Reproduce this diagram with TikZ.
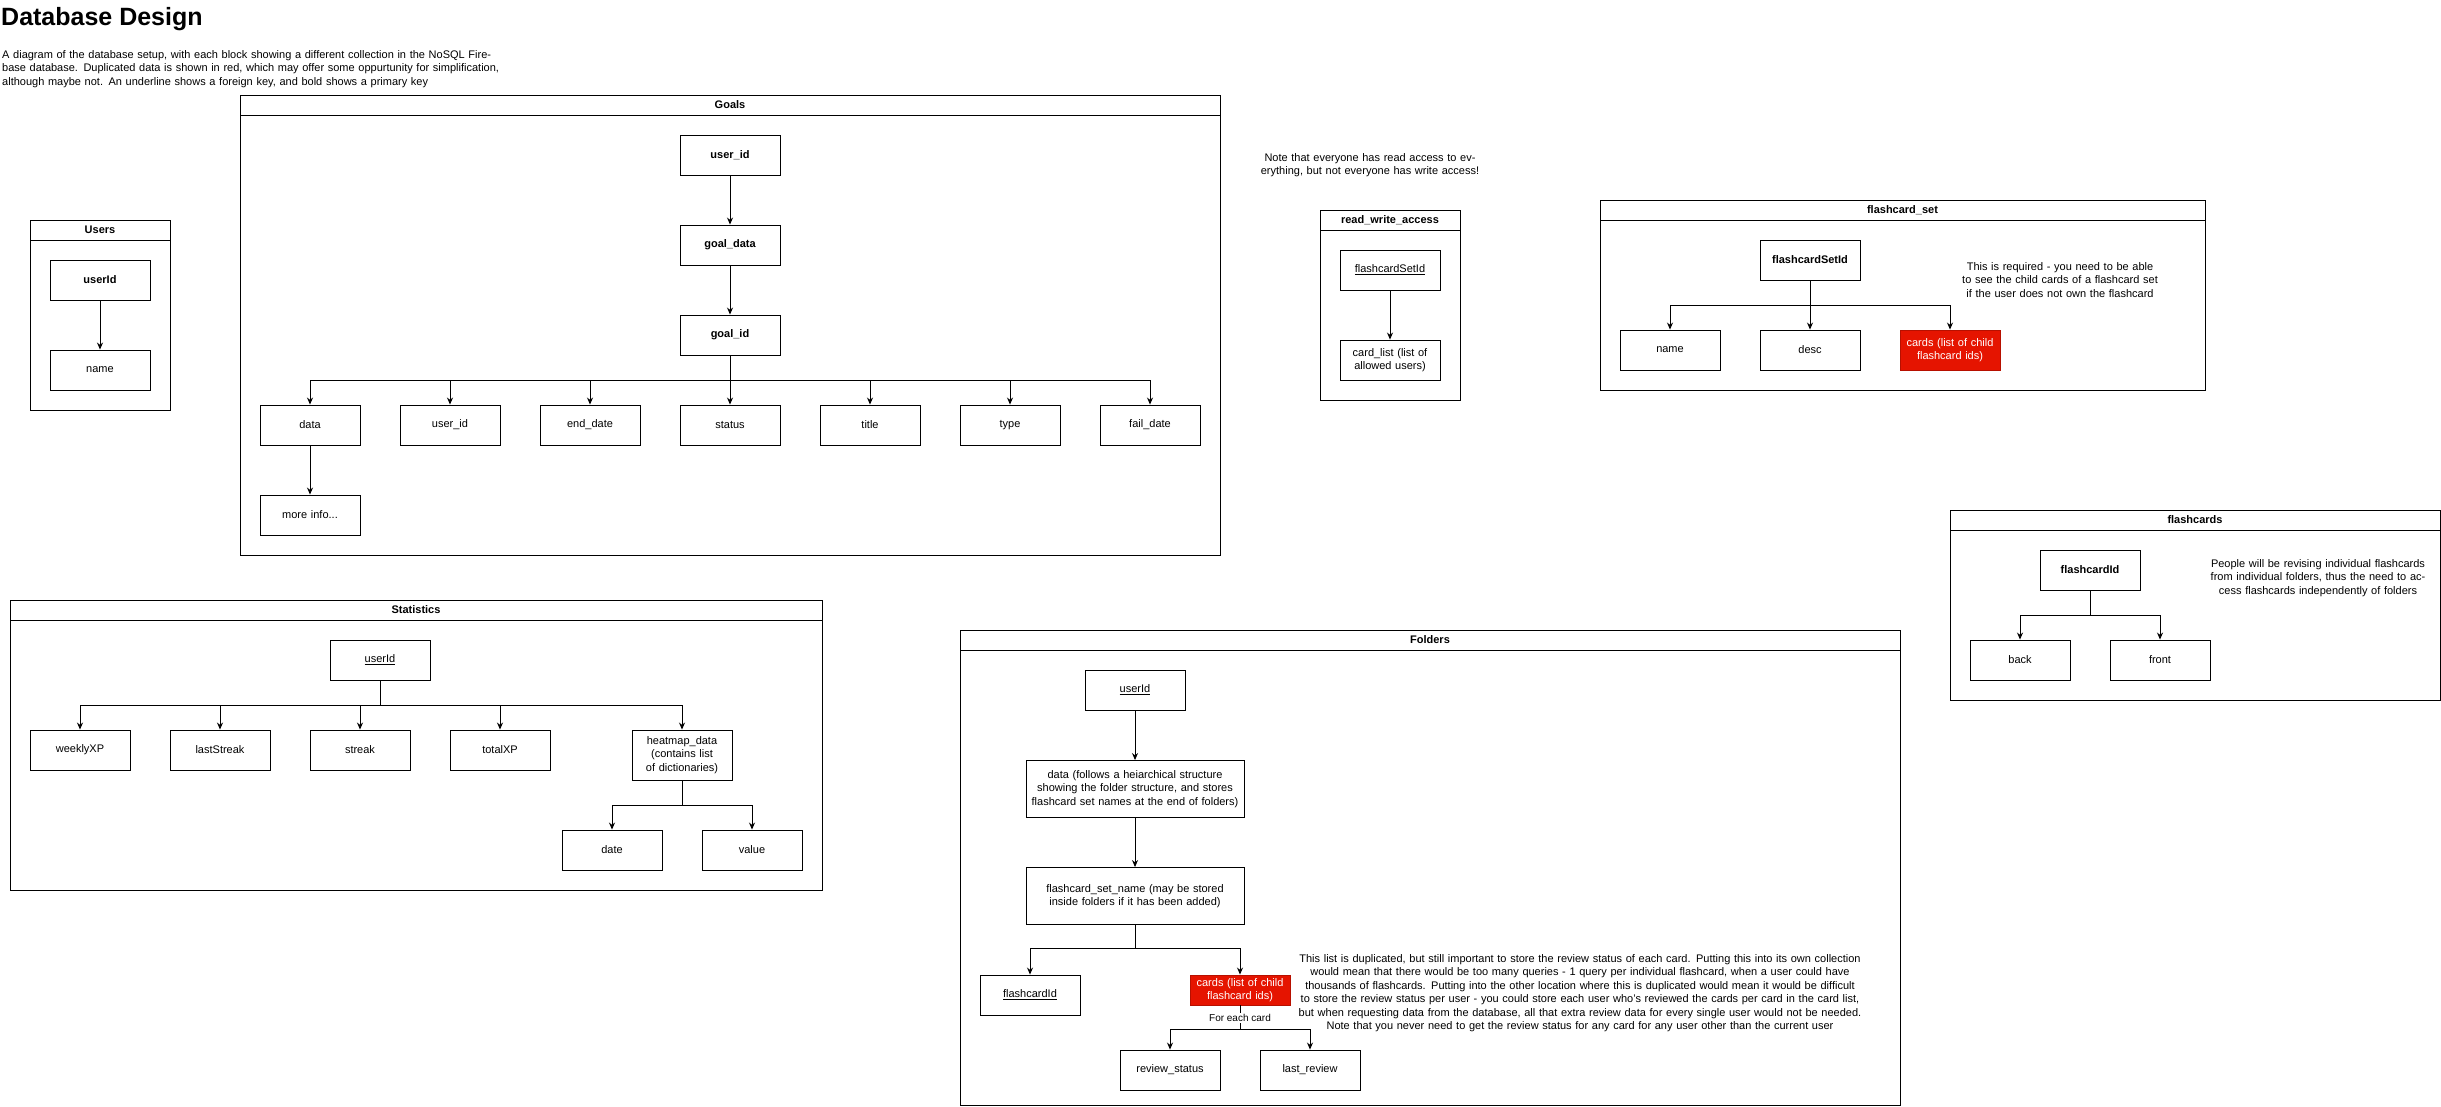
\documentclass[tikz,border=0pt]{standalone}
\usepackage{fontspec}
\setmainfont{Liberation Sans}
\usetikzlibrary{arrows.meta}
\definecolor{dupred}{HTML}{E51400}
\tikzset{
  x=1pt,y=-1pt,
  every node/.style={font=\fontsize{11}{13.5}\selectfont},
  fld/.style={draw,line width=0.9pt,minimum width=100pt,minimum height=40pt,text width=96pt,align=center,inner sep=1pt},
  pk/.style={fld,font=\fontsize{11}{13.5}\selectfont\bfseries},
  dup/.style={fld,fill=dupred,draw=dupred!80!black,text=white,minimum height=30pt},
  arr/.style={line width=0.9pt,-{Stealth[length=7pt,width=6pt]}},
  ln/.style={line width=0.9pt},
  cont/.style={line width=0.9pt},
  ctitle/.style={font=\fontsize{11}{13.5}\selectfont\bfseries},
  note/.style={align=center}
}
\newcommand{\container}[5]{%
  \draw[cont] (#1,#2) rectangle (#3,#4);
  \draw[cont] (#1,#2+20) -- (#3,#2+20);
  \node[ctitle] at ({(#1+#3)/2},#2+10) {#5};}
\begin{document}
\begin{tikzpicture}
\useasboundingbox (0,0) rectangle (2441,1106);
\node[anchor=north west,inner sep=0,font=\fontsize{25}{30}\selectfont\bfseries] (title) at (1,7) {Database Design};
\node[anchor=north west,inner sep=0,text width=510pt,align=left] (desc) at (2,50) {A diagram of the database setup, with each block showing a different collection in the NoSQL Firebase database. Duplicated data is shown in red, which may offer some oppurtunity for simplification, although maybe not. An underline shows a foreign key, and bold shows a primary key};

% Users
\container{30}{220}{170}{410}{Users}
\node[pk] (uid) at (100,280) {userId};
\node[fld] (uname) at (100,370) {name};
\draw[arr] (uid) -- (uname);

% Goals
\container{240}{95}{1220}{555}{Goals}
\node[pk] (guser) at (730,155) {user\_id};
\node[pk] (gdata) at (730,245) {goal\_data};
\node[pk] (gid) at (730,335) {goal\_id};
\draw[arr] (guser) -- (gdata);
\draw[arr] (gdata) -- (gid);
\coordinate (gb) at (730,380);
\node[fld] (g1) at (310,425) {data};
\node[fld] (g2) at (450,425) {user\_id};
\node[fld] (g3) at (590,425) {end\_date};
\node[fld] (g4) at (730,425) {status};
\node[fld] (g5) at (870,425) {title};
\node[fld] (g6) at (1010,425) {type};
\node[fld] (g7) at (1150,425) {fail\_date};
\node[fld] (gm) at (310,515) {more info...};
\draw[ln] (gid) -- (gb);
\foreach \n in {g1,g2,g3,g4,g5,g6,g7} \draw[arr] (gb) -| (\n.north);
\draw[arr] (g1) -- (gm);

% read_write_access
\node[note,text width=220pt] (rwnote) at (1370,165) {Note that everyone has read access to everything, but not everyone has write access!};
\container{1320}{210}{1460}{400}{read\_write\_access}
\node[fld] (rwid) at (1390,270) {\underline{flashcardSetId}};
\node[fld] (rwlist) at (1390,360) {card\_list (list of allowed users)};
\draw[arr] (rwid) -- (rwlist);

% flashcard_set
\container{1600}{200}{2205}{390}{flashcard\_set}
\node[pk] (fsid) at (1810,260) {flashcardSetId};
\node[fld] (fsname) at (1670,350) {name};
\node[fld] (fsdesc) at (1810,350) {desc};
\node[dup,minimum height=40pt] (fscards) at (1950,350) {cards (list of child flashcard ids)};
\coordinate (fsb) at (1810,305);
\draw[ln] (fsid) -- (fsb);
\foreach \n in {fsname,fsdesc,fscards} \draw[arr] (fsb) -| (\n.north);
\node[note,text width=250pt] (fsnote) at (2060,280) {This is required - you need to be able to see the child cards of a flashcard set if the user does not own the flashcard};

% flashcards
\container{1950}{510}{2440}{700}{flashcards}
\node[pk] (fcid) at (2090,570) {flashcardId};
\node[fld] (fcback) at (2020,660) {back};
\node[fld] (fcfront) at (2160,660) {front};
\coordinate (fcb) at (2090,615);
\draw[ln] (fcid) -- (fcb);
\foreach \n in {fcback,fcfront} \draw[arr] (fcb) -| (\n.north);
\node[note,text width=250pt] (fcnote) at (2318,578) {People will be revising individual flashcards from individual folders, thus the need to access flashcards independently of folders};

% Statistics
\container{10}{600}{822}{890}{Statistics}
\node[fld] (suid) at (380,660) {\underline{userId}};
\node[fld] (s1) at (80,750) {weeklyXP};
\node[fld] (s2) at (220,750) {lastStreak};
\node[fld] (s3) at (360,750) {streak};
\node[fld] (s4) at (500,750) {totalXP};
\node[fld,minimum height=50pt] (s5) at (682,755) {heatmap\_data (contains list of dictionaries)};
\coordinate (sb) at (380,705);
\draw[ln] (suid) -- (sb);
\foreach \n in {s1,s2,s3,s4,s5} \draw[arr] (sb) -| (\n.north);
\node[fld] (sdate) at (612,850) {date};
\node[fld] (sval) at (752,850) {value};
\coordinate (hb) at (682,805);
\draw[ln] (s5) -- (hb);
\foreach \n in {sdate,sval} \draw[arr] (hb) -| (\n.north);

% Folders
\container{960}{630}{1900}{1105}{Folders}
\node[fld] (fuid) at (1135,690) {\underline{userId}};
\node[fld,text width=216pt,minimum height=57pt] (fdata) at (1135,789) {data (follows a heiarchical structure showing the folder structure, and stores flashcard set names at the end of folders)};
\node[fld,text width=216pt,minimum height=57pt] (fname) at (1135,896) {flashcard\_set\_name (may be stored inside folders if it has been added)};
\draw[arr] (fuid) -- (fdata);
\draw[arr] (fdata) -- (fname);
\coordinate (fnb) at (1135,948);
\node[fld] (fcard) at (1030,995) {\underline{flashcardId}};
\node[dup] (fcards) at (1240,990) {cards (list of child flashcard ids)};
\draw[ln] (fname) -- (fnb);
\foreach \n in {fcard,fcards} \draw[arr] (fnb) -| (\n.north);
\node[fld] (frev) at (1170,1070) {review\_status};
\node[fld] (flast) at (1310,1070) {last\_review};
\coordinate (fcb2) at (1240,1029);
\draw[ln] (fcards) -- (fcb2);
\node[fill=white,inner sep=1pt,font=\fontsize{10}{12}\selectfont] (feach) at (1240,1018) {For each card};
\foreach \n in {frev,flast} \draw[arr] (fcb2) -| (\n.north);
\node[note,text width=580pt] (fnote) at (1580,993) {This list is duplicated, but still important to store the review status of each card. Putting this into its own collection would mean that there would be too many queries - 1 query per individual flashcard, when a user could have thousands of flashcards. Putting into the other location where this is duplicated would mean it would be difficult to store the review status per user - you could store each user who's reviewed the cards per card in the card list, but when requesting data from the database, all that extra review data for every single user would not be needed.\\Note that you never need to get the review status for any card for any user other than the current user};
\end{tikzpicture}
\end{document}
